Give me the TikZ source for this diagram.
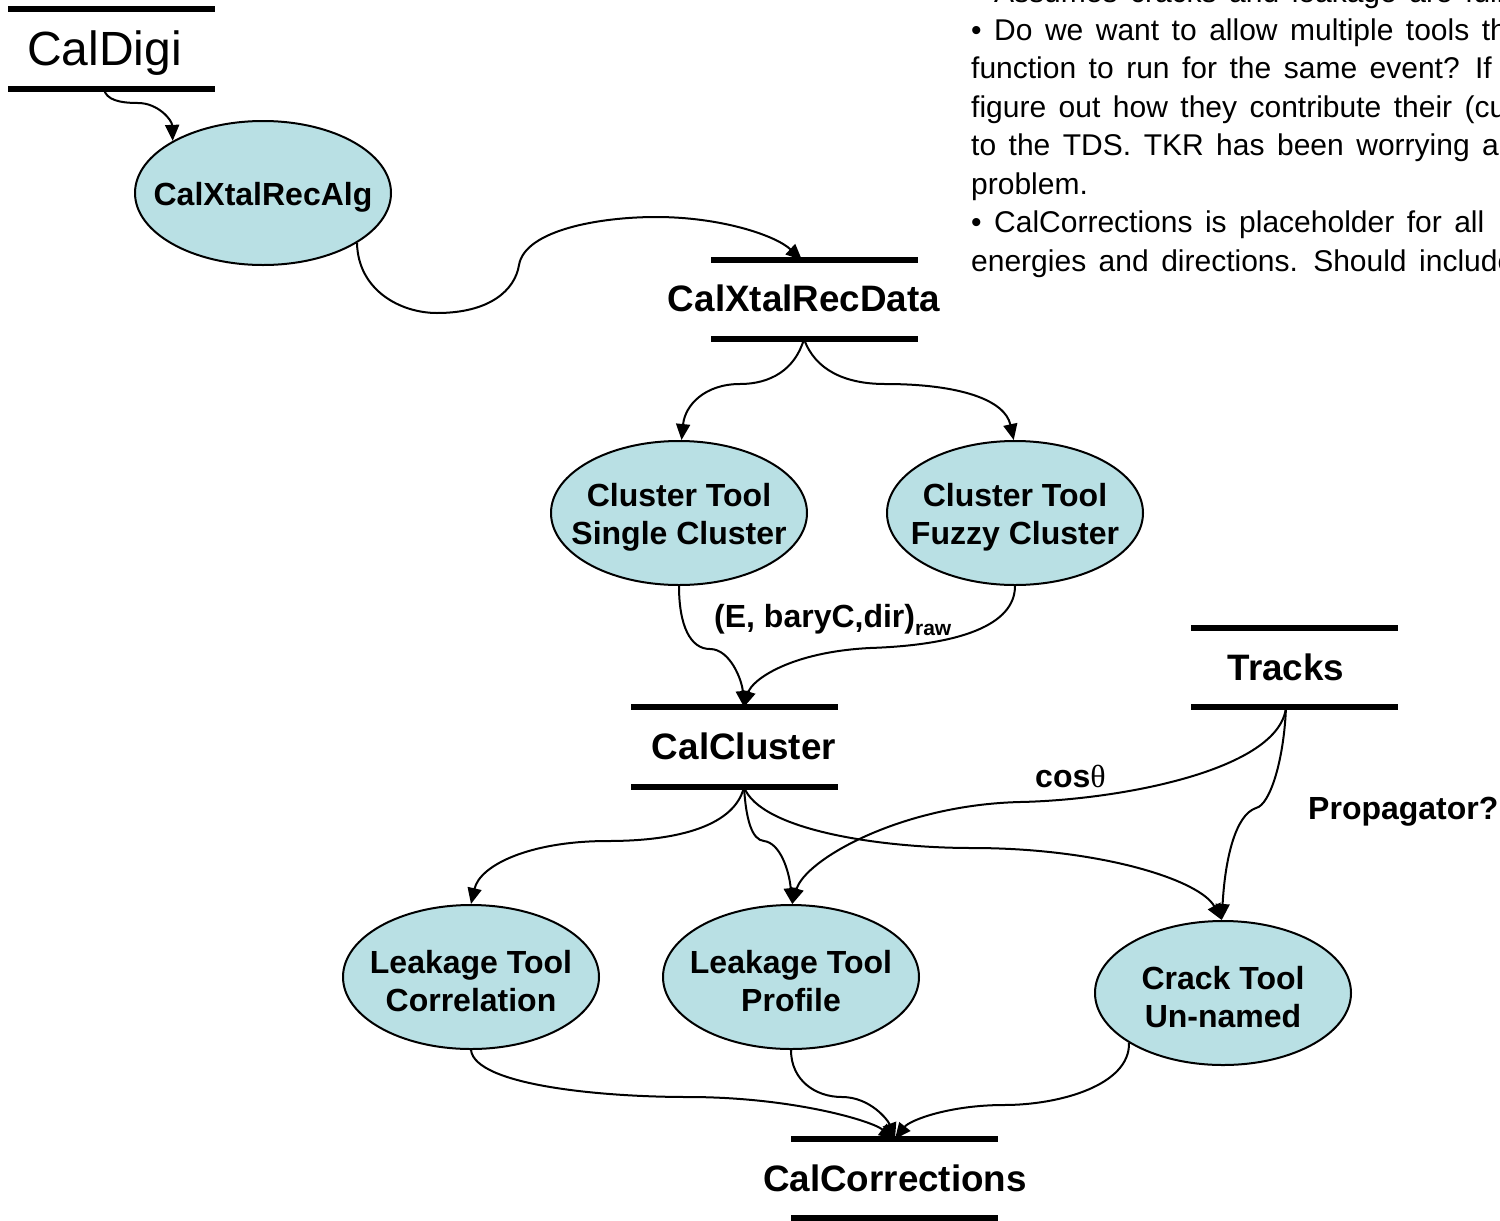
\documentclass[tikz,border=0pt]{standalone}
\usepackage{fontspec}
\setmainfont{Liberation Sans}
\newfontfamily\greekserif{Liberation Serif}
\newfontfamily\notefont[WordSpace=1.5]{Liberation Sans}
\usetikzlibrary{shapes.geometric,arrows.meta}
\definecolor{toolfill}{RGB}{185,224,228}
\begin{document}
\begin{tikzpicture}[x=1pt,y=-1pt,
  tool/.style={ellipse,draw=black,fill=toolfill,line width=2pt,minimum width=256pt,minimum height=144pt,inner sep=0pt},
  tooltext/.style={inner sep=0pt,align=center,yshift=-4pt,font=\bfseries\fontsize{32}{38}\selectfont},
  storelbl/.style={anchor=base,inner sep=0pt,font=\bfseries\fontsize{36.8}{40}\selectfont},
  bar/.style={line width=6pt},
  conn/.style={line width=2pt,-{Triangle[length=16pt,width=14pt]}},
  lbl/.style={anchor=base west,inner sep=0pt,font=\bfseries\fontsize{32}{38}\selectfont},
  note/.style={anchor=base west,inner sep=0pt,font=\notefont\fontsize{30}{38}\selectfont}]
\useasboundingbox (0,0) rectangle (1500,1221);
\clip (0,0) rectangle (1500,1221);

% ---- data stores ----
\node[anchor=base west,inner sep=0pt,font=\fontsize{48}{50}\selectfont] (digi) at (27,65) {CalDigi};
\draw[bar] (8,9) -- (215,9);
\draw[bar] (8,89) -- (215,89);
\coordinate (digiB) at (104,89);

\node[storelbl] (xrd) at (804,311) {CalXtalRecData};
\draw[bar] (711,260) -- (918,260);
\draw[bar] (711,339) -- (918,339);
\coordinate (xrdT) at (802,260);
\coordinate (xrdB) at (804,339);

\node[storelbl] (cc) at (744,759) {CalCluster};
\draw[bar] (631,707) -- (838,707);
\draw[bar] (631,787) -- (838,787);
\coordinate (ccT) at (744,707);
\coordinate (ccB) at (744,787);

\node[storelbl] (tr) at (1286,680) {Tracks};
\draw[bar] (1191,628) -- (1398,628);
\draw[bar] (1191,707) -- (1398,707);
\coordinate (trB) at (1286,707);

\node[storelbl] (corr) at (895,1191) {CalCorrections};
\draw[bar] (791,1139) -- (998,1139);
\draw[bar] (791,1218) -- (998,1218);
\coordinate (corrT) at (895,1139);

% ---- tools ----
\node[tool] (cxa) at (263,193) {};
\node[tooltext] (cxaT) at (cxa) {CalXtalRecAlg};
\node[tool] (single) at (679,513) {};
\node[tooltext] (singleT) at (single) {Cluster Tool\\Single Cluster};
\node[tool] (fuzzy) at (1015,513) {};
\node[tooltext] (fuzzyT) at (fuzzy) {Cluster Tool\\Fuzzy Cluster};
\node[tool] (lcorr) at (471,977) {};
\node[tooltext] (lcorrT) at (lcorr) {Leakage Tool\\Correlation};
\node[tool] (lprof) at (791,977) {};
\node[tooltext] (lprofT) at (lprof) {Leakage Tool\\Profile};
\node[tool] (crack) at (1223,993) {};
\node[tooltext] (crackT) at (crack) {Crack Tool\\Un-named};

% ---- connectors ----
\draw[conn] (digiB) .. controls (106,100) and (120,103) .. (138,103)
  .. controls (158,103) and (172,120) .. (cxa.150);
\draw[conn] (cxa.-28.5) .. controls (358,290) and (400,313) .. (437,313)
  .. controls (490,313) and (515,290) .. (519,265)
  .. controls (525,230) and (600,217) .. (656,217)
  .. controls (720,217) and (775,235) .. (xrdT);
\draw[conn] (xrdB) .. controls (795,370) and (770,384) .. (740,384)
  .. controls (705,384) and (685,405) .. (single.88);
\draw[conn] (xrdB) .. controls (815,370) and (845,384) .. (885,384)
  .. controls (960,384) and (1005,400) .. (fuzzy.91);
\draw[conn] (single.-90) .. controls (679,625) and (690,649) .. (710,649)
  .. controls (730,649) and (742,680) .. (ccT);
\draw[conn] (fuzzy.-90) .. controls (1015,625) and (960,645) .. (870,648)
  .. controls (790,652) and (752,680) .. (ccT);
\draw[conn] (ccB) .. controls (735,825) and (680,841) .. (608,841)
  .. controls (530,841) and (480,865) .. (lcorr.90);
\draw[conn] (ccB) .. controls (746,820) and (752,840) .. (764,841)
  .. controls (780,843) and (789,870) .. (lprof.89);
\draw[conn] (ccB) .. controls (760,830) and (880,848) .. (972,848)
  .. controls (1100,848) and (1200,880) .. (crack.91);
\draw[conn] (trB) .. controls (1280,770) and (1120,800) .. (1020,802)
  .. controls (900,805) and (805,860) .. (lprof.89);
\draw[conn] (trB) .. controls (1284,760) and (1270,805) .. (1256,808)
  .. controls (1235,815) and (1225,860) .. (crack.91);
\draw[conn] (lcorr.-90) .. controls (475,1085) and (600,1097) .. (688,1097)
  .. controls (790,1097) and (870,1120) .. (corrT);
\draw[conn] (lprof.-90) .. controls (791,1080) and (815,1097) .. (842,1097)
  .. controls (870,1097) and (888,1120) .. (corrT);
\draw[conn] (crack.-152) .. controls (1130,1085) and (1060,1105) .. (1004,1105)
  .. controls (950,1105) and (910,1120) .. (corrT);

% ---- connector labels ----
\node[lbl] (rawlbl) at (714,627) {(E, baryC,dir)\raisebox{-8pt}{\fontsize{21}{21}\selectfont raw}};
\node[lbl] (coslbl) at (1035,787) {cos{\mdseries\greekserif θ}};
\node[lbl] (proplbl) at (1308,819) {Propagator?};

% ---- notes ----
\node[note] (n0) at (971,2) {• Assumes cracks and leakage are fully};
\node[note] (n1) at (971,40) {• Do we want to allow multiple tools that};
\node[note] (n2) at (971,78.5) {function to run for the same event? If so};
\node[note] (n3) at (971,117) {figure out how they contribute their (cu};
\node[note] (n4) at (971,155.5) {to the TDS. TKR has been worrying about};
\node[note] (n5) at (971,194) {problem.};
\node[note] (n6) at (971,232.5) {• CalCorrections is placeholder for all};
\node[note] (n7) at (971,271) {energies and directions. Should include};
\end{tikzpicture}
\end{document}
